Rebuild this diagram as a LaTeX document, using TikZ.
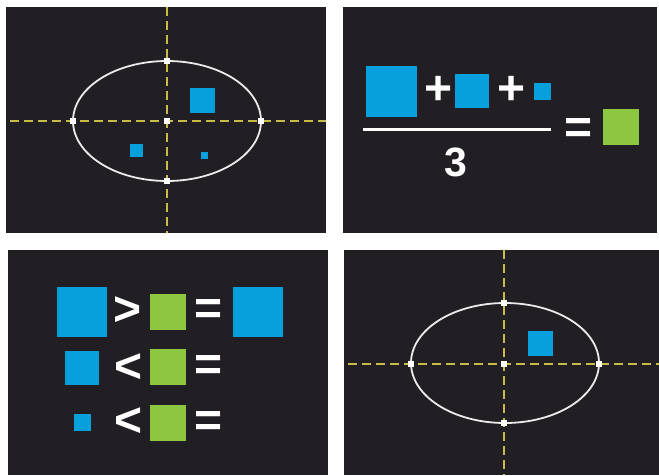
\documentclass[tikz,border=0pt]{standalone}
\usepackage{fontspec}
\setmainfont{Liberation Sans}
\definecolor{panelbg}{RGB}{34,31,36}
\definecolor{sqblue}{RGB}{8,160,220}
\definecolor{sqgreen}{RGB}{141,198,63}
\definecolor{axisyel}{RGB}{200,188,70}
\definecolor{ellwhite}{RGB}{235,235,235}
\tikzset{
  panel/.style={fill=panelbg, draw=none},
  bsq/.style={fill=sqblue, draw=none, inner sep=0pt, minimum size=#1, rectangle},
  gsq/.style={fill=sqgreen, draw=none, inner sep=0pt, minimum size=#1, rectangle},
  marker/.style={fill=white, draw=none, inner sep=0pt, minimum size=6.5pt, rectangle},
  axisline/.style={draw=axisyel, line width=2.4pt, dash pattern=on 9pt off 5pt},
  ellline/.style={draw=ellwhite, line width=1.8pt},
  sym/.style={text=white, font=\bfseries\fontsize{48}{48}\selectfont, inner sep=0pt},
  num/.style={text=white, font=\bfseries\fontsize{41}{41}\selectfont, inner sep=0pt},
  fracline/.style={draw=white, line width=3pt}
}
\begin{document}
\begin{tikzpicture}[x=1pt,y=-1pt]
\useasboundingbox (0,0) rectangle (659,475);
\fill[white] (0,0) rectangle (659,475);
% panels
\fill[panel] (6,7) rectangle (326,233);
\fill[panel] (343,7) rectangle (657,233);
\fill[panel] (8,250) rectangle (328,475);
\fill[panel] (344,250) rectangle (659,475);

% ---------- Panel 1 ----------
\coordinate (p1top) at (167,7);
\coordinate (p1bot) at (167,233);
\coordinate (p1left) at (10,121);
\coordinate (p1right) at (326,121);
\draw[axisline] (p1top) -- (p1bot);
\draw[axisline] (p1left) -- (p1right);
\draw[ellline] (167,121) ellipse [x radius=94, y radius=60];
\node[marker] (m1c) at (167,121) {};
\node[marker] (m1l) at (73,121) {};
\node[marker] (m1r) at (261,121) {};
\node[marker] (m1t) at (167,61) {};
\node[marker] (m1b) at (167,181) {};
\node[bsq=25pt] (s1a) at (202.5,100.5) {};
\node[bsq=13pt] (s1b) at (136,150.5) {};
\node[bsq=7pt] (s1c) at (204,155.5) {};

% ---------- Panel 2 ----------
\node[bsq=51pt] (s2a) at (391.5,91) {};
\node[sym] (plus1) at (438.5,90) {+};
\node[bsq=34pt] (s2b) at (472,90.5) {};
\node[sym] (plus2) at (511.5,90) {+};
\node[bsq=17pt] (s2c) at (542.5,91) {};
\coordinate (fracL) at (363,129.5);
\coordinate (fracR) at (551,129.5);
\draw[fracline] (fracL) -- (fracR);
\node[num] (three) at (456,162) {3};
\node[sym] (eq2) at (578.5,131) {=};
\node[gsq=36pt] (g2) at (621,127) {};

% ---------- Panel 3 ----------
\node[bsq=50pt] (r1a) at (82,312) {};
\node[sym] (gt1) at (128,311.5) {>};
\node[gsq=36pt] (r1g) at (168,312) {};
\node[sym] (eq31) at (208.5,312.5) {=};
\node[bsq=50pt] (r1b) at (257.5,312) {};

\node[bsq=34pt] (r2a) at (82,367.5) {};
\node[sym] (lt2) at (129,368) {<};
\node[gsq=36pt] (r2g) at (168,367) {};
\node[sym] (eq32) at (208.5,368) {=};

\node[bsq=17pt] (r3a) at (82,422.5) {};
\node[sym] (lt3) at (129,422.5) {<};
\node[gsq=36pt] (r3g) at (168,423) {};
\node[sym] (eq33) at (208.5,424) {=};

% ---------- Panel 4 ----------
\coordinate (p4top) at (504,250);
\coordinate (p4bot) at (504,475);
\coordinate (p4left) at (348,364);
\coordinate (p4right) at (659,364);
\draw[axisline] (p4top) -- (p4bot);
\draw[axisline] (p4left) -- (p4right);
\draw[ellline] (505,363) ellipse [x radius=94, y radius=60];
\node[marker] (m4c) at (504,364) {};
\node[marker] (m4l) at (411,364) {};
\node[marker] (m4r) at (599,364) {};
\node[marker] (m4t) at (504,303) {};
\node[marker] (m4b) at (504,423) {};
\node[bsq=25pt] (s4a) at (540.5,343.5) {};
\end{tikzpicture}
\end{document}
